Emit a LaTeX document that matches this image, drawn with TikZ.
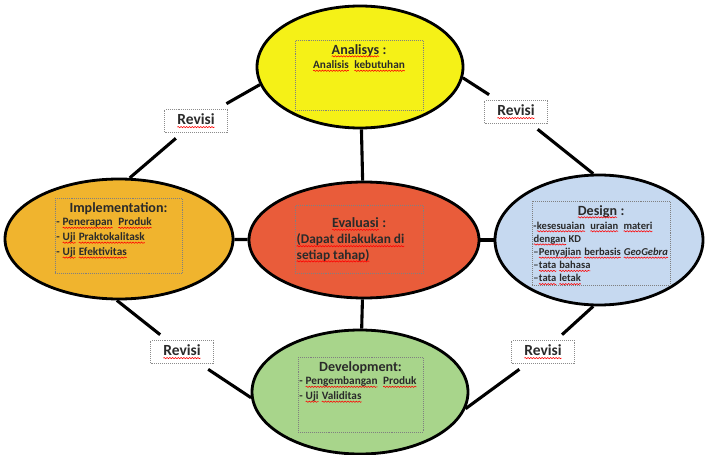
\documentclass[tikz,border=0pt]{standalone}
\usepackage{fontspec}
\setmainfont{Carlito}
\usepackage{xcolor}
\usepackage{tikz}
\usetikzlibrary{positioning,shapes.geometric,decorations.pathmorphing}
\pgfdeclarelayer{background}
\pgfsetlayers{background,main}

\definecolor{anaYellow}{HTML}{F5F117}
\definecolor{implOrange}{HTML}{F0B42E}
\definecolor{evalRed}{HTML}{E95C3A}
\definecolor{designBlue}{HTML}{C6D9F0}
\definecolor{devGreen}{HTML}{A8D58B}
\definecolor{txtGray}{HTML}{2A2A2A}

% red wavy underline of the spell checker
\newcommand\spell[1]{\tikz[baseline=(sw.base)]{%
    \node [shape=rectangle, draw=none, fill=none, inner sep=0pt, outer sep=0pt,
           minimum size=0pt, anchor=base] (sw) {#1};
    \draw [red, solid, line width=0.4pt, decorate,
           decoration={snake, amplitude=0.45pt, segment length=2pt}]
        ([yshift=-1.6pt]sw.base west) -- ([yshift=-1.6pt]sw.base east);}}

\begin{document}
\begin{tikzpicture}[
    phase/.style={
        ellipse, draw=black, line width=2pt, inner sep=0pt
    },
    tbox/.style={
        rectangle, draw=black!50, densely dotted, thin, inner sep=0pt
    },
    ttl/.style={font=\bfseries\fontsize{10}{12}\selectfont, text=txtGray, inner sep=1pt, align=center},
    itm/.style={font=\bfseries\fontsize{8}{10.6}\selectfont, text=txtGray, inner sep=1pt, align=left},
    revisi/.style={
        rectangle, draw=black!45, densely dotted, fill=white,
        minimum width=1.575cm, minimum height=0.5cm, outer sep=4pt,
        font=\bfseries\fontsize{11}{13}\selectfont, text=txtGray
    },
    line/.style={draw, line width=2.2pt, color=black}
]
    \useasboundingbox (0,0) rectangle (17.675,-11.35);

    % the five phases
    \node [phase, fill=anaYellow, minimum width=5.15cm, minimum height=3.05cm] (ana) at (9.0,-1.675) {};
    \node [phase, fill=implOrange, minimum width=5.7cm, minimum height=3.0cm] (impl) at (2.975,-5.975) {};
    \node [phase, fill=evalRed, minimum width=5.75cm, minimum height=2.9cm] (eval) at (9.1,-6.0) {};
    \node [phase, fill=designBlue, minimum width=5.2cm, minimum height=3.25cm] (design) at (14.975,-6.0) {};
    \node [phase, fill=devGreen, minimum width=5.4cm, minimum height=3.1cm] (dev) at (9.0,-9.8) {};

    % dotted text boxes
    \node [tbox, minimum width=3.2cm, minimum height=1.75cm] (anaBox) at (8.975,-1.875) {};
    \node [tbox, minimum width=3.175cm, minimum height=1.875cm] (implBox) at (2.9625,-5.8875) {};
    \node [tbox, minimum width=3.2cm, minimum height=1.7cm] (evalBox) at (8.975,-5.975) {};
    \node [tbox, minimum width=3.45cm, minimum height=2.1cm] (designBox) at (15.025,-6.075) {};
    \node [tbox, minimum width=3.125cm, minimum height=1.875cm] (devBox) at (9.0125,-9.8625) {};

    % texts
    \node [ttl, below=2pt of anaBox.north] (anaTitle) {\spell{Analisys} :};
    \node [itm, below=0pt of anaTitle] (anaText) {\spell{Analisis}\ \ \spell{kebutuhan}};

    \node [ttl, below=2pt of implBox.north] (implTitle) {Implementation:};
    \node [itm, anchor=north west] (implText) at (implBox.west |- implTitle.south) {
        - \spell{Penerapan}\ \ \spell{Produk}\\
        - \spell{Uji} \spell{Praktokalitask}\\
        - \spell{Uji} \spell{Efektivitas}
    };

    \node [ttl, below=8pt of evalBox.north] (evalTitle) {\spell{Evaluasi} :};
    \node [itm, font=\bfseries\fontsize{9.5}{10.8}\selectfont, anchor=north west] (evalText) at (evalBox.west |- evalTitle.south) {
        \spell{(Dapat dilakukan di}\\
        \spell{setiap tahap)}
    };

    \node [ttl, below=2pt of designBox.north] (designTitle) {\spell{Design} :};
    \node [itm, font=\bfseries\fontsize{7.5}{9.4}\selectfont, anchor=north west] (designText) at (designBox.west |- designTitle.south) {
        -\spell{kesesuaian}\ \ \spell{uraian}\ \ \spell{materi}\\
        \spell{dengan} KD\\
        –\spell{Penyajian} \spell{berbasis} \spell{\textit{GeoGebra}}\\
        –\spell{tata} \spell{bahasa}\\
        –\spell{tata} \spell{letak}
    };

    \node [ttl, below=2pt of devBox.north] (devTitle) {Development:};
    \node [itm, anchor=north west] (devText) at (devBox.west |- devTitle.south) {
        - \spell{Pengembangan}\ \ \spell{Produk}\\
        - \spell{Uji} \spell{Validitas}
    };

    % revision labels
    \node [revisi] (revTL) at (4.9,-3.025) {\spell{Revisi}};
    \node [revisi] (revTR) at (12.9,-2.8) {\spell{Revisi}};
    \node [revisi] (revBL) at (4.55,-8.8) {\spell{Revisi}};
    \node [revisi] (revBR) at (13.575,-8.8) {\spell{Revisi}};

    % connectors, behind the phases
    \begin{pgfonlayer}{background}
        \path [line] (impl) -- (eval);
        \path [line] (eval) -- (design);
        \path [line] (ana) -- (eval);
        \path [line] (eval) -- (dev);
        \path [line] (ana.190) -- (revTL) -- (impl.80);
        \path [line] (ana.354) -- (revTR) -- (design.95);
        \path [line] (impl.268) -- (revBL) -- (dev.183);
        \path [line] (design.265) -- (revBR) -- (dev.351);
    \end{pgfonlayer}
\end{tikzpicture}
\end{document}
